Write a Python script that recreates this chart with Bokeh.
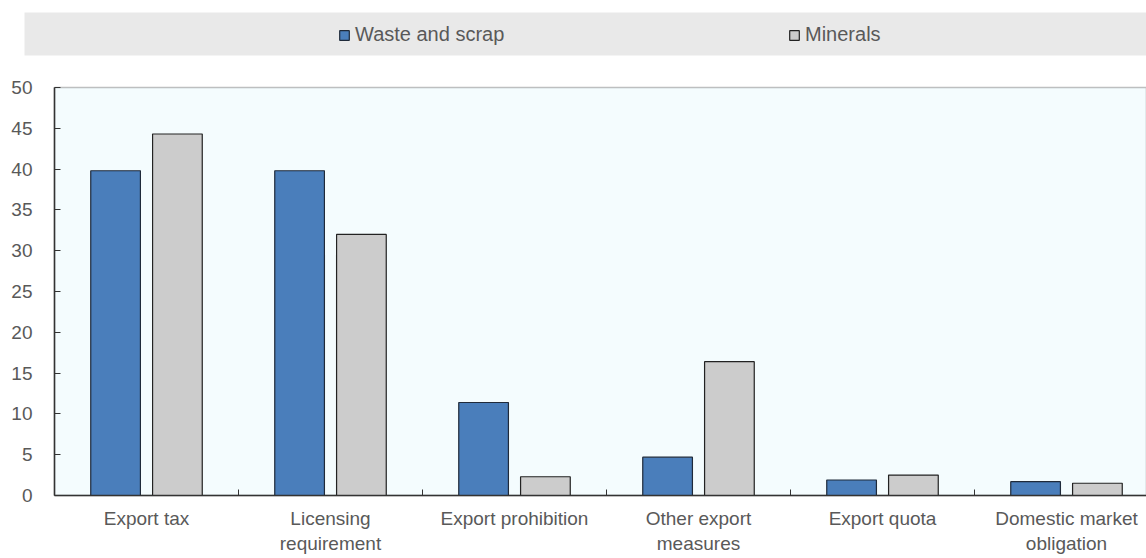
import numpy as np
from bokeh.plotting import figure
from bokeh.models import (Range1d, FixedTicker, BoxAnnotation, Legend, LegendItem,
                          LinearAxis)
from bokeh.embed import file_html
from bokeh.resources import INLINE

# ---- data ----
categories = ["Export tax", "Licensing\nrequirement", "Export prohibition",
              "Other export\nmeasures", "Export quota", "Domestic market\nobligation"]
waste_and_scrap = [39.8, 39.8, 11.4, 4.7, 1.9, 1.7]
minerals = [44.3, 32.0, 2.3, 16.4, 2.5, 1.5]
series_names = ["Waste and scrap", "Minerals"]
y_ticks = [0, 5, 10, 15, 20, 25, 30, 35, 40, 45, 50]
y_max = 50

# ---- styles / layout ----
FONT = "Liberation Sans"
TXT = "#595959"
BLUE = "#4A7EBB"
GREY = "#CCCCCC"
AX = "#333333"
W, H = 1146, 558
BAND_L, AXIS_X, BAND_T, BAND_B, CHART_T, CHART_B = 24, 54, 12, 55, 87, 495
CAT_PX = 184.0
PX_PER_UNIT = (CHART_B - CHART_T) / y_max

centers = np.arange(len(categories)) + 0.5
boundaries = list(np.arange(1, len(categories)))

x_start = -AXIS_X / CAT_PX
x_end = (W - AXIS_X) / CAT_PX
band_left = -(AXIS_X - BAND_L) / CAT_PX
y_top = y_max + CHART_T / PX_PER_UNIT
y_bottom = -(H - CHART_B) / PX_PER_UNIT
band_top = y_max + (CHART_T - BAND_T) / PX_PER_UNIT
band_bottom = y_max + (CHART_T - BAND_B) / PX_PER_UNIT

p = figure(width=W, height=H, output_backend="svg", toolbar_location=None,
           x_range=Range1d(x_start, x_end), y_range=Range1d(y_bottom, y_top),
           x_axis_location=None, y_axis_location=None,
           min_border_left=0, min_border_right=0, min_border_top=0, min_border_bottom=0)
p.background_fill_color = "white"
p.border_fill_color = "white"
p.outline_line_color = None
p.grid.visible = False

# legend band
p.add_layout(BoxAnnotation(left=band_left, bottom=band_bottom, top=band_top,
                           fill_color="#E9E9E9", fill_alpha=1.0, line_color=None,
                           level="underlay"))
# plot area
p.add_layout(BoxAnnotation(left=0, bottom=0, top=y_max, fill_color="#F4FCFE",
                           fill_alpha=1.0, line_color=AX, line_width=1.6,
                           level="underlay"))

r1 = p.vbar(x=centers - 0.168, top=waste_and_scrap, width=0.27, fill_color=BLUE,
            line_color="#1F2A3A", line_width=1.2)
r2 = p.vbar(x=centers + 0.168, top=minerals, width=0.27, fill_color=GREY,
            line_color="#222222", line_width=1.2)

legend_y = H - 34.5 - 11.5
for name, rend, lx in [(series_names[0], r1, 338), (series_names[1], r2, 788)]:
    leg = Legend(items=[LegendItem(label=name, renderers=[rend])],
                 location=(lx, legend_y),
                 orientation="horizontal", padding=0, margin=0, spacing=0,
                 border_line_color=None, background_fill_alpha=0,
                 glyph_width=12, glyph_height=12, label_standoff=5,
                 label_text_font=FONT, label_text_font_size="20px", label_text_color=TXT)
    p.add_layout(leg)

yax = LinearAxis(fixed_location=0, bounds=(0, y_max), ticker=FixedTicker(ticks=y_ticks))
yax.major_tick_in = 6
yax.major_tick_out = 0
yax.minor_tick_line_color = None
yax.axis_line_color = AX
yax.axis_line_width = 1.5
yax.major_tick_line_color = AX
yax.major_label_standoff = 22
yax.major_label_text_font = FONT
yax.major_label_text_font_size = "19px"
yax.major_label_text_color = TXT
p.add_layout(yax, "left")

xax = LinearAxis(fixed_location=0, bounds=(0, x_end),
                 ticker=FixedTicker(ticks=list(centers), minor_ticks=boundaries))
xax.major_label_overrides = {float(c): lab for c, lab in zip(centers, categories)}
xax.major_tick_in = 0
xax.major_tick_out = 0
xax.minor_tick_in = 6
xax.minor_tick_out = 0
xax.minor_tick_line_color = AX
xax.axis_line_color = AX
xax.axis_line_width = 1.5
xax.major_label_standoff = 12
xax.major_label_text_font = FONT
xax.major_label_text_font_size = "19px"
xax.major_label_text_color = TXT
p.add_layout(xax, "below")

open("out.html", "w").write(file_html(p, INLINE))
